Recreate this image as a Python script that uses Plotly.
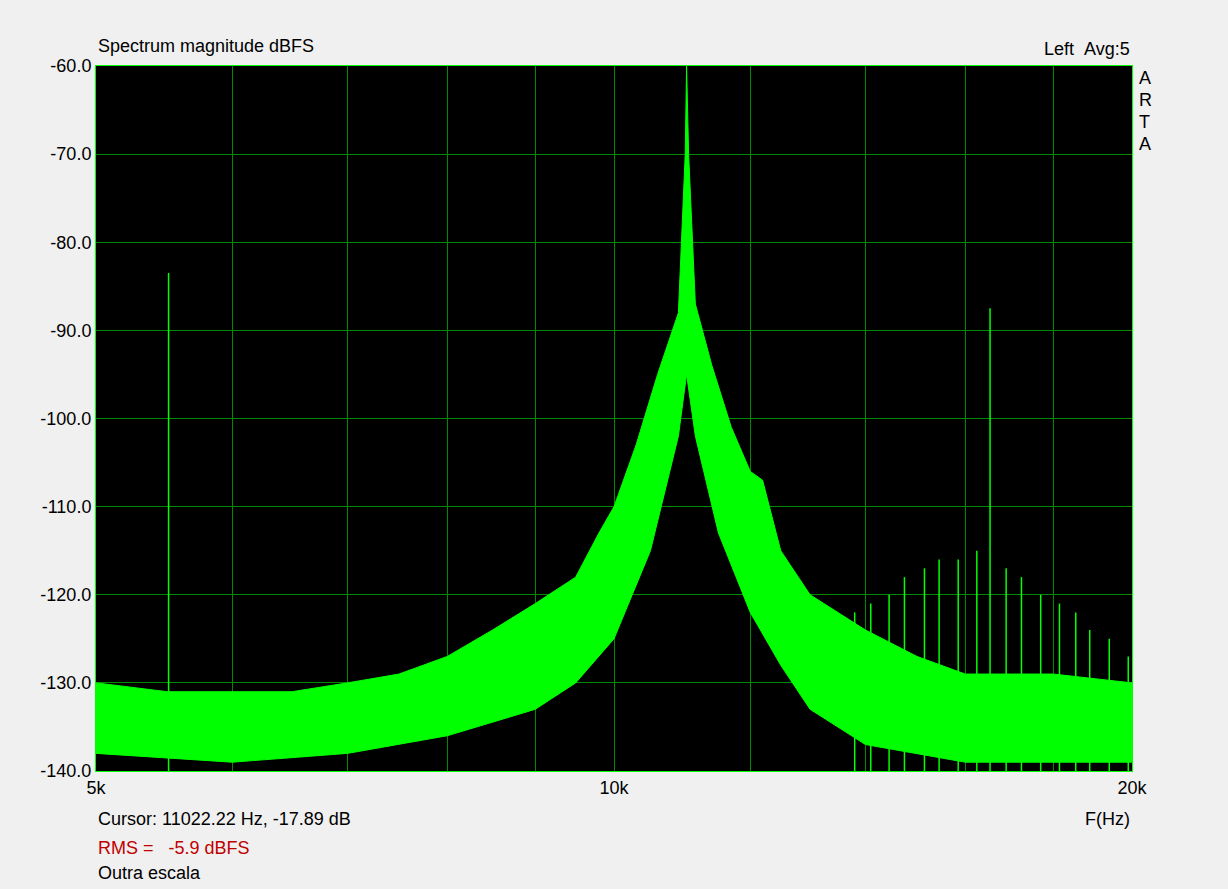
import plotly.graph_objects as go

# Envelope of the noisy spectrum (Hz, dBFS)
upper_f = [5000, 5500, 6000, 6500, 7000, 7500, 8000, 8500, 9000, 9500, 9800, 10000, 10300, 10600, 10900, 11000, 11020, 11050, 11150, 11400, 11700, 12000, 12200, 12500, 13000, 14000, 15000, 16000, 18000, 20000]
upper_db = [-130, -131, -131, -131, -130, -129, -127, -124, -121, -118, -113, -110, -103, -95, -88, -70, -60, -70, -87, -94, -101, -106, -107, -115, -120, -124, -127, -129, -129, -130]
lower_f = [5000, 6000, 7000, 8000, 9000, 9500, 10000, 10500, 10900, 11020, 11150, 11500, 12000, 12500, 13000, 14000, 16000, 20000]
lower_db = [-138, -139, -138, -136, -133, -130, -125, -115, -102, -95, -102, -113, -122, -128, -133, -137, -139, -139]

# Discrete spurs (Hz, peak dBFS)
spur_f = [5510, 16540, 13800, 14100, 14450, 14750, 15150, 15450, 15850, 16250, 16900, 17250, 17700, 18150, 18550, 18900, 19400, 19900]
spur_db = [-83.5, -87.5, -122, -121, -120, -118, -117, -116, -116, -115, -117, -118, -120, -121, -122, -124, -125, -127]

y_ticks = [-140, -130, -120, -110, -100, -90, -80, -70, -60]
x_grid = [5000, 6000, 7000, 8000, 9000, 10000, 12000, 14000, 16000, 18000, 20000]
x_labels = {5000: "5k", 10000: "10k", 20000: "20k"}

GREEN = "#00ff00"
GRID = "#008a00"
fig = go.Figure()
fig.add_trace(go.Scatter(x=lower_f, y=lower_db, mode="lines", line=dict(color=GREEN, width=1), hoverinfo="skip"))
fig.add_trace(go.Scatter(x=upper_f, y=upper_db, mode="lines", line=dict(color=GREEN, width=1),
                         fill="tonexty", fillcolor=GREEN, hoverinfo="skip"))
sx, sy = [], []
for f, d in zip(spur_f, spur_db):
    sx += [f, f, None]
    sy += [-140, d, None]
fig.add_trace(go.Scatter(x=sx, y=sy, mode="lines", line=dict(color=GREEN, width=1.5), hoverinfo="skip"))

fig.update_layout(
    width=1228, height=889, showlegend=False,
    paper_bgcolor="#f0f0f0", plot_bgcolor="black",
    margin=dict(l=96, r=96, t=66, b=118),
    font=dict(family="Liberation Sans, Arial", size=18, color="black"),
    xaxis=dict(type="log", range=[3.69897, 4.30103], tickvals=x_grid,
               ticktext=[x_labels.get(v, "") for v in x_grid],
               gridcolor=GRID, gridwidth=1, showline=True, linecolor=GREEN, mirror=True,
               ticks="", zeroline=False),
    yaxis=dict(range=[-140, -60], tickvals=y_ticks, ticktext=[f"{v:.1f}" for v in y_ticks],
               gridcolor=GRID, gridwidth=1, showline=True, linecolor=GREEN, mirror=True,
               ticks="", zeroline=False),
)
ann = [
    (96, 46, "Spectrum magnitude dBFS", "left", "black"),
    (1132, 49, "Left  Avg:5", "right", "black"),
    (96, 819, "Cursor: 11022.22 Hz, -17.89 dB", "left", "black"),
    (1132, 819, "F(Hz)", "right", "black"),
    (96, 848, "RMS =   -5.9 dBFS", "left", "#c00000"),
    (96, 873, "Outra escala", "left", "black"),
]
for i, ch in enumerate("ARTA"):
    ann.append((1137, 78 + i * 22, ch, "left", "black"))
for x, y, t, xa, c in ann:
    fig.add_annotation(x=(x - 96) / 1036, y=1 - (y - 66) / 705, xref="paper", yref="paper",
                       text=t.replace("  ", "&nbsp;&nbsp;"), showarrow=False,
                       xanchor=xa, yanchor="middle", font=dict(size=18, color=c))
fig.write_html("out.html", config={"displayModeBar": False})
with open("out.html", encoding="utf-8") as fh:
    html = fh.read()
html = html.replace("<head>", "<head><style>html,body{margin:0;padding:0;overflow:hidden;background:#f0f0f0}</style>", 1)
with open("out.html", "w", encoding="utf-8") as fh:
    fh.write(html)
